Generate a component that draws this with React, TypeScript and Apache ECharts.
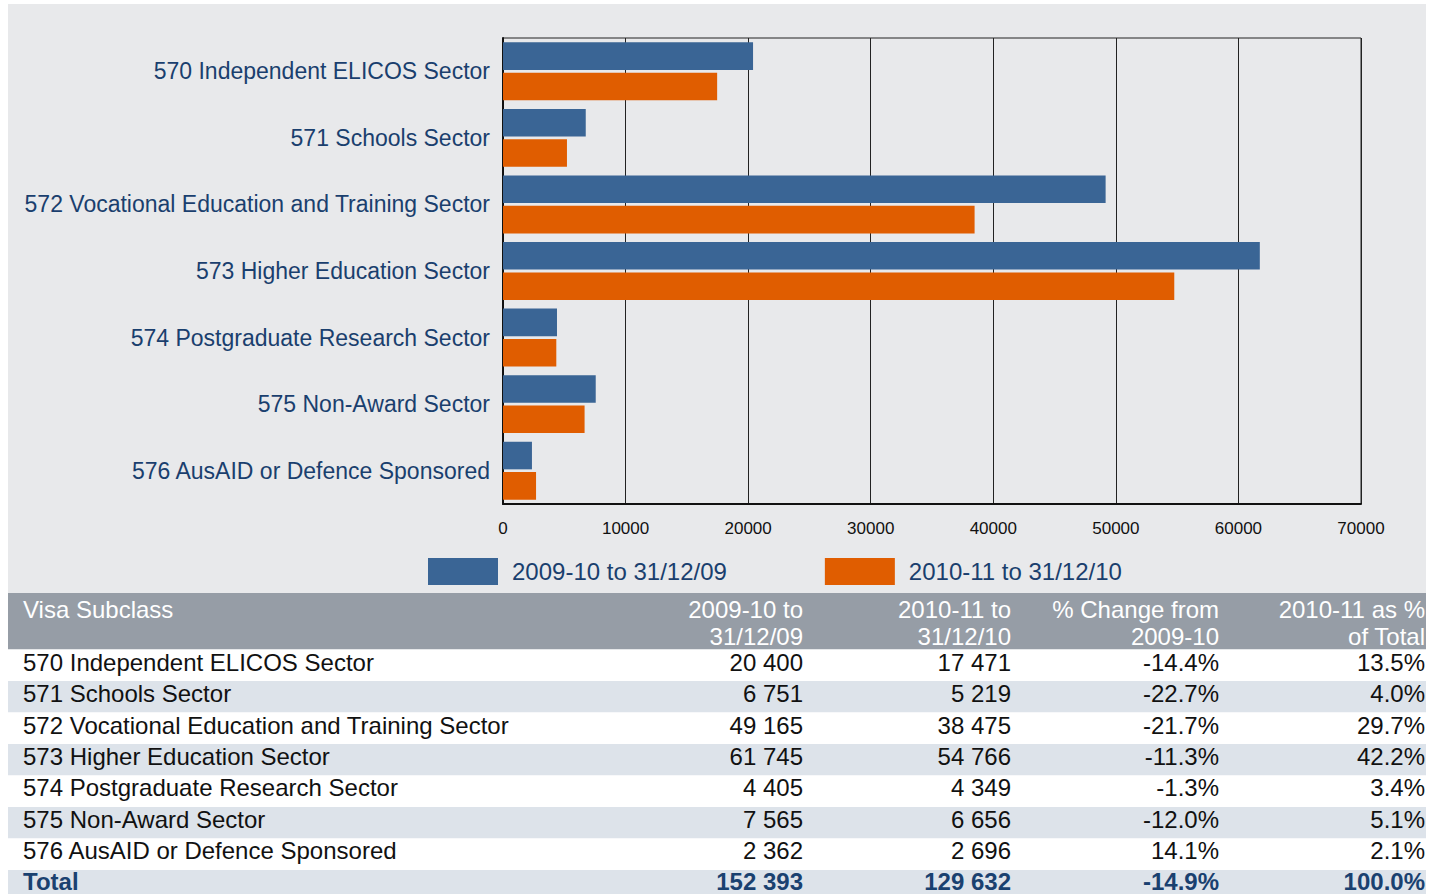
import React, { useEffect, useRef } from "react";
import * as echarts from "echarts";

const categories = [
  "570 Independent ELICOS Sector",
  "571 Schools Sector",
  "572 Vocational Education and Training Sector",
  "573 Higher Education Sector",
  "574 Postgraduate Research Sector",
  "575 Non-Award Sector",
  "576 AusAID or Defence Sponsored",
];
const seriesNames = ["2009-10 to 31/12/09", "2010-11 to 31/12/10"];
const values2009 = [20400, 6751, 49165, 61745, 4405, 7565, 2362];
const values2010 = [17471, 5219, 38475, 54766, 4349, 6656, 2696];
const pctChange = [-14.4, -22.7, -21.7, -11.3, -1.3, -12.0, 14.1];
const pctOfTotal = [13.5, 4.0, 29.7, 42.2, 3.4, 5.1, 2.1];
const totalRow = { label: "Total", v2009: 152393, v2010: 129632, change: -14.9, share: 100.0 };
const headerCols = [
  ["Visa Subclass"],
  ["2009-10 to", "31/12/09"],
  ["2010-11 to", "31/12/10"],
  ["% Change from", "2009-10"],
  ["2010-11 as %", "of Total"],
];
const xTicks = { min: 0, max: 70000, interval: 10000 };

const FONT = '"Liberation Sans", Arial, Helvetica, sans-serif';
const BLUE = "#3a6595";
const ORANGE = "#e05d00";
const NAVY = "#1a3f6e";

const fmt = (n: number) => String(n).replace(/\B(?=(\d{3})+(?!\d))/g, " ");
const pct = (n: number) => n.toFixed(1) + "%";

function buildTable() {
  const els: any[] = [];
  const left = 8;
  const width = 1430;
  const headTop = 593;
  const headH = 56.5;
  const rowTop = headTop + headH;
  const rowH = 31.5;
  const colRight = [803, 1011, 1219, 1425];
  const textX = 23;

  els.push({ type: "rect", shape: { x: left, y: headTop, width, height: headH }, style: { fill: "#969da6" }, silent: true });
  const hLines = [609, 636];
  headerCols.forEach((lines, ci) => {
    lines.forEach((t, li) => {
      els.push({
        type: "text",
        x: ci === 0 ? textX : colRight[ci - 1],
        y: hLines[li],
        style: { text: t, fill: "#ffffff", fontSize: 24, fontFamily: FONT, align: ci === 0 ? "left" : "right", verticalAlign: "middle" },
        silent: true,
      });
    });
  });

  const rows: any[] = categories.map((c, i) => ({
    label: c,
    cells: [fmt(values2009[i]), fmt(values2010[i]), pct(pctChange[i]), pct(pctOfTotal[i])],
    total: false,
  }));
  rows.push({
    label: totalRow.label,
    cells: [fmt(totalRow.v2009), fmt(totalRow.v2010), pct(totalRow.change), pct(totalRow.share)],
    total: true,
  });

  rows.forEach((r, i) => {
    const y = rowTop + i * rowH;
    els.push({ type: "rect", shape: { x: left, y, width, height: rowH }, style: { fill: i % 2 === 1 ? "#dde3ea" : "#ffffff" }, silent: true });
    const cy = 662.5 + i * 31.35;
    const fill = r.total ? "#1a4170" : "#111111";
    const fw = r.total ? "bold" : "normal";
    els.push({
      type: "text", x: textX, y: cy,
      style: { text: r.label, fill, fontSize: 24, fontWeight: fw, fontFamily: FONT, align: "left", verticalAlign: "middle" },
      silent: true,
    });
    r.cells.forEach((t: string, ci: number) => {
      els.push({
        type: "text", x: colRight[ci], y: cy,
        style: { text: t, fill, fontSize: 24, fontWeight: fw, fontFamily: FONT, align: "right", verticalAlign: "middle" },
        silent: true,
      });
    });
  });
  return els;
}

export default function App() {
  const ref = useRef<HTMLDivElement>(null);
  useEffect(() => {
    if (!ref.current) return;
    const chart = echarts.init(ref.current, null, { renderer: "svg" });
    chart.setOption({
      animation: false,
      backgroundColor: "#ffffff",
      textStyle: { fontFamily: FONT },
      graphic: [
        {
          type: "rect",
          z: -10,
          shape: { x: 8, y: 4, width: 1418, height: 589 },
          style: { fill: "#e8e9eb" },
          silent: true,
        },
        ...buildTable(),
      ],
      legend: {
        left: 428,
        top: 558,
        padding: 0,
        itemWidth: 70,
        itemHeight: 27,
        itemGap: 98,
        icon: "rect",
        data: seriesNames,
        textStyle: { fontSize: 24, color: NAVY, fontFamily: FONT, padding: [0, 0, 0, 9] },
      },
      grid: {
        left: 503,
        top: 38,
        width: 858,
        height: 466,
        show: true,
        borderColor: "#222",
        borderWidth: 1,
        backgroundColor: "transparent",
        containLabel: false,
      },
      xAxis: {
        type: "value",
        min: xTicks.min,
        max: xTicks.max,
        interval: xTicks.interval,
        axisLine: { show: true, lineStyle: { color: "#111", width: 2 } },
        axisTick: { show: false },
        splitLine: { show: true, lineStyle: { color: "#222", width: 1 } },
        axisLabel: { fontSize: 17, color: "#111", margin: 16, fontFamily: FONT, formatter: (v: number) => String(v) },
      },
      yAxis: {
        type: "category",
        inverse: true,
        data: categories,
        axisLine: { show: true, lineStyle: { color: "#111", width: 2 } },
        axisTick: { show: false },
        splitLine: { show: false },
        axisLabel: { fontSize: 23, color: NAVY, margin: 13, fontFamily: FONT },
      },
      series: [
        {
          name: seriesNames[0],
          type: "bar",
          data: values2009,
          itemStyle: { color: BLUE },
          barGap: "10%",
          barCategoryGap: "13%",
        },
        {
          name: seriesNames[1],
          type: "bar",
          data: values2010,
          itemStyle: { color: ORANGE },
          barGap: "10%",
          barCategoryGap: "13%",
        },
      ],
    });
    return () => chart.dispose();
  }, []);
  return (
    <div
      ref={ref}
      style={{ position: "absolute", left: 0, top: 0, width: 1426, height: 894, background: "#fff" }}
    />
  );
}
